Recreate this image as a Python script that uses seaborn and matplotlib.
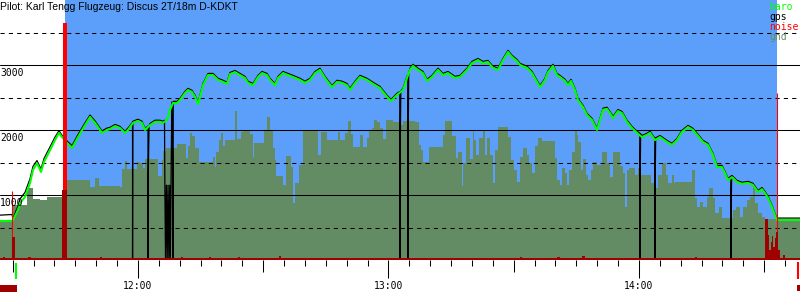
import matplotlib
matplotlib.use("Agg")
import matplotlib.pyplot as plt
import matplotlib.transforms as mtransforms
from matplotlib.patches import Rectangle
import seaborn as sns

# ---------------- data (time = minutes after 11:00, altitude in m) ----------------
title_text = "Pilot: Karl Tengg Flugzeug: Discus 2T/18m D-KDKT"
legend_labels = ["baro", "gps", "noise", "gnd"]
hour_ticks = [60, 120, 180]
hour_labels = ["12:00", "13:00", "14:00"]
half_hour_ticks = [30, 90, 150, 210]
five_min_ticks = [m for m in range(35, 220, 5) if m % 30 != 0]
alt_labels = [1000, 2000, 3000]
solid_levels = [1000, 2000, 3000]
dashed_levels = [500, 1500, 2500, 3500]

x_start, x_end = 26.95, 218.57
flight_start, flight_end = 42.4, 213.05

baro_time = [26.95, 29.82, 30.06, 31.26, 31.74, 32.94, 34.14, 34.85, 35.81, 36.77,
             37.49, 38.93, 40.12, 41.08, 41.80, 43.00, 44.20, 45.63, 47.31, 48.51,
             49.70, 51.38, 52.58, 53.30, 54.49, 55.69, 56.89, 57.61, 58.81, 60.00,
             60.96, 61.68, 62.88, 64.08, 65.27, 65.99, 66.95, 67.67, 68.39, 69.35,
             70.06, 71.26, 71.98, 72.94, 73.66, 74.38, 74.85, 75.57, 76.77, 77.97,
             79.17, 80.36, 81.32, 82.04, 83.24, 84.44, 85.63, 86.35, 87.55, 88.75,
             89.70, 90.90, 91.62, 92.82, 93.54, 94.73, 95.93, 97.13, 98.81, 100.00,
             101.20, 102.40, 103.60, 104.79, 106.47, 107.67, 108.87, 110.06, 110.78, 111.98,
             113.18, 114.85, 116.29, 117.97, 119.64, 120.60, 122.04, 123.48, 124.43, 125.15,
             125.87, 127.07, 128.27, 129.22, 130.42, 131.86, 133.06, 134.25, 135.93, 137.13,
             138.81, 140.00, 141.44, 142.64, 143.84, 145.03, 146.23, 147.43, 148.63, 149.58,
             150.78, 151.50, 153.18, 154.38, 155.57, 156.29, 157.49, 158.21, 159.40, 160.36,
             161.08, 162.28, 163.00, 163.72, 164.67, 165.39, 166.59, 167.55, 168.75, 169.95,
             170.66, 171.38, 172.34, 173.06, 173.78, 174.97, 175.93, 177.13, 178.33, 179.53,
             180.72, 181.92, 182.64, 183.84, 185.03, 186.71, 187.91, 189.10, 190.30, 191.74,
             192.94, 194.13, 195.33, 196.53, 197.73, 198.69, 199.88, 200.60, 201.32, 202.28,
             203.48, 204.67, 206.11, 207.31, 208.51, 209.47, 210.18, 210.90, 211.86, 212.58,
             213.06, 218.57]
baro_alt = [600, 600, 615, 770, 875, 970, 1185, 1385, 1490, 1355,
            1510, 1690, 1845, 1955, 1890, 1800, 1725, 1890, 2075, 2200,
            2110, 1955, 2000, 2015, 2060, 2030, 1955, 2000, 2110, 2140,
            2110, 2000, 2075, 2125, 2125, 2110, 2155, 2310, 2415, 2415,
            2460, 2570, 2615, 2585, 2510, 2400, 2510, 2690, 2845, 2845,
            2770, 2740, 2710, 2860, 2890, 2845, 2800, 2725, 2690, 2815,
            2875, 2845, 2770, 2690, 2800, 2875, 2845, 2815, 2770, 2725,
            2770, 2875, 2925, 2800, 2660, 2740, 2725, 2690, 2615, 2725,
            2815, 2770, 2710, 2645, 2510, 2445, 2540, 2615, 2800, 2925,
            2985, 2925, 2875, 2755, 2815, 2925, 2845, 2875, 2800, 2815,
            2925, 3030, 3075, 3030, 3045, 2955, 2925, 3075, 3200, 3125,
            3060, 3000, 2955, 2875, 2740, 2660, 2770, 2890, 2985, 2845,
            2815, 2755, 2690, 2755, 2615, 2460, 2355, 2230, 2155, 2000,
            2155, 2310, 2325, 2260, 2185, 2290, 2260, 2125, 2030, 1955,
            1890, 1925, 1955, 1845, 1890, 1815, 1770, 1845, 1970, 2045,
            2000, 1910, 1815, 1770, 1615, 1430, 1430, 1340, 1230, 1275,
            1200, 1170, 1185, 1155, 1045, 1090, 1030, 955, 815, 690,
            615, 615]

gps_time = [26.95, 29.82, 30.06, 31.26, 31.74, 32.94, 34.14, 34.85, 35.81, 36.77,
            37.49, 38.93, 40.12, 41.08, 41.80, 43.00, 44.20, 45.63, 47.31, 48.51,
            49.70, 51.38, 52.58, 53.30, 54.49, 55.69, 56.89, 57.61,
            58.70, 58.70, 58.75, 58.81, 60.00, 60.96, 61.68,
            62.40, 62.40, 62.40, 62.65, 62.88, 64.08, 65.27, 65.99,
            66.35, 66.45, 66.60, 66.80, 67.00, 67.20, 67.40, 67.60, 67.75, 68.10,
            68.35, 68.40, 68.45, 69.35, 70.06,
            71.26, 71.98, 72.94, 73.66, 74.38, 74.85, 75.57, 76.77, 77.97,
            79.17, 80.36, 81.32, 82.04, 83.24, 84.44, 85.63, 86.35, 87.55, 88.75,
            89.70, 90.90, 91.62, 92.82, 93.54, 94.73, 95.93, 97.13, 98.81, 100.00,
            101.20, 102.40, 103.60, 104.79, 106.47, 107.67, 108.87, 110.06, 110.78, 111.98,
            113.18, 114.85, 116.29, 117.97, 119.64, 120.60, 122.04,
            122.70, 122.76, 122.76, 122.95, 123.48, 124.43,
            124.62, 124.67, 124.67, 124.85, 125.15,
            125.87, 127.07, 128.27, 129.22, 130.42, 131.86, 133.06, 134.25, 135.93, 137.13,
            138.81, 140.00, 141.44, 142.64, 143.84, 145.03, 146.23, 147.43, 148.63, 149.58,
            150.78, 151.50, 153.18, 154.38, 155.57, 156.29, 157.49, 158.21, 159.40, 160.36,
            161.08, 162.28, 163.00, 163.72, 164.67, 165.39, 166.59, 167.55, 168.75, 169.95,
            170.66, 171.38, 172.34, 173.06, 173.78, 174.97, 175.93, 177.13, 178.33, 179.53,
            180.20, 180.24, 180.24, 180.40, 180.72, 181.92, 182.64,
            183.80, 183.84, 183.84, 184.00, 185.03, 186.71, 187.91, 189.10, 190.30, 191.74,
            192.94, 194.13, 195.33, 196.53, 197.73, 198.69, 199.88, 200.60, 201.32,
            202.00, 202.04, 202.04, 202.20, 202.28,
            203.48, 204.67, 206.11, 207.31, 208.51, 209.47, 210.18, 210.90, 211.86, 212.58,
            213.06, 218.57]
gps_alt = [690, 700, 640, 830, 940, 1040, 1250, 1440, 1530, 1400,
           1560, 1740, 1890, 1990, 1920, 1830, 1760, 1930, 2110, 2230,
           2140, 1985, 2030, 2040, 2085, 2055, 1980, 2030,
           2120, 0, 2125, 2135, 2165, 2135, 2025,
           2060, 0, 1030, 2070, 2100, 2150, 2150, 2135,
           2150, 1045, 0, 1150, 0, 1150, 0, 1150, 0, 2430,
           1200, 0, 2440, 2440, 2485,
           2595, 2640, 2610, 2535, 2425, 2535, 2715, 2870, 2870,
           2795, 2765, 2735, 2885, 2915, 2870, 2825, 2750, 2715, 2840,
           2900, 2870, 2795, 2715, 2825, 2900, 2870, 2840, 2795, 2750,
           2795, 2900, 2950, 2825, 2685, 2765, 2750, 2715, 2640, 2750,
           2840, 2795, 2735, 2670, 2535, 2470, 2565,
           2590, 0, 1310, 2600, 2640, 2825,
           2850, 0, 1415, 2880, 2950,
           3010, 2950, 2900, 2780, 2840, 2950, 2870, 2900, 2825, 2840,
           2950, 3055, 3100, 3055, 3070, 2980, 2950, 3100, 3225, 3150,
           3085, 3025, 2980, 2900, 2765, 2685, 2795, 2915, 3010, 2870,
           2840, 2780, 2715, 2780, 2640, 2485, 2380, 2255, 2180, 2025,
           2180, 2335, 2350, 2285, 2210, 2315, 2285, 2150, 2055, 1980,
           1950, 0, 970, 1940, 1915, 1950, 1980,
           1875, 0, 940, 1880, 1915, 1840, 1795, 1870, 1995, 2070,
           2025, 1935, 1840, 1795, 1640, 1455, 1455, 1365, 1255,
           1290, 0, 615, 1295, 1300,
           1225, 1195, 1210, 1180, 1070, 1115, 1055, 980, 840, 715,
           645, 645]

gnd_time = [26.95, 29.82, 33.42, 34.85, 36.53, 38.21, 41.80, 43.00, 48.51, 49.70,
            50.66, 55.69, 56.17, 56.89, 57.37, 59.76, 60.48, 61.20, 61.68, 64.79,
            65.75, 65.99, 66.71, 69.35, 71.50, 71.98, 72.46, 72.94, 73.66, 74.61,
            77.97, 78.45, 78.69, 79.40, 79.88, 80.36, 80.84, 83.24, 83.71, 84.67,
            85.15, 86.83, 87.55, 87.79, 90.18, 90.90, 91.62, 92.34, 92.82, 93.06,
            94.73, 95.45, 96.65, 97.13, 97.61, 98.57, 99.52, 103.12, 103.84, 105.27,
            106.71, 107.91, 108.39, 109.58, 110.30, 111.02, 111.50, 113.18, 113.90, 114.85,
            115.33, 116.05, 116.53, 117.25, 117.97, 118.69, 119.40, 121.08, 122.76, 123.48,
            126.35, 127.31, 127.79, 128.27, 129.71, 133.06, 133.54, 135.21, 136.17, 136.65,
            137.61, 137.85, 138.57, 139.52, 140.24, 140.48, 140.96, 141.68, 142.64, 143.12,
            143.60, 144.31, 145.03, 145.51, 146.23, 148.63, 149.35, 150.06, 150.78, 151.50,
            152.22, 153.18, 153.66, 154.38, 155.09, 155.81, 156.77, 159.88, 160.36, 161.08,
            161.56, 162.28, 162.76, 163.24, 163.96, 164.67, 165.15, 165.39, 166.11, 166.59,
            167.31, 167.79, 168.51, 168.99, 169.95, 171.14, 172.34, 173.06, 173.78, 175.45,
            176.17, 176.65, 177.13, 177.61, 179.05, 179.76, 180.48, 182.88, 183.60, 184.56,
            185.51, 186.47, 186.95, 187.91, 188.39, 188.63, 192.70, 193.42, 193.90, 194.61,
            195.33, 196.29, 196.77, 197.73, 198.21, 199.17, 199.88, 202.52, 203.24, 204.20,
            204.92, 205.87, 206.59, 207.31, 207.79, 208.51, 209.47, 210.18, 213.06, 218.57]
gnd_alt = [600, 845, 1110, 940, 925, 970, 1075, 1230, 1125, 1260,
           1140, 1125, 1400, 1525, 1400, 1510, 1490, 1415, 1555, 1290,
           1540, 1675, 1725, 1785, 1570, 1755, 1955, 1910, 1725, 1510,
           1585, 1430, 1660, 1845, 1955, 1755, 1845, 2290, 1860, 1970,
           1985, 1940, 1585, 1800, 1985, 2200, 1985, 1725, 1540, 1290,
           1155, 1600, 1430, 875, 1185, 1460, 1985, 1615, 1970, 1845,
           1845, 1970, 1845, 1955, 2140, 1940, 1740, 1925, 1740, 1875,
           1985, 2030, 2155, 2125, 2030, 1860, 2155, 2125, 2075, 2140,
           2125, 1770, 1690, 1510, 1740, 1925, 2140, 1910, 1570, 1660,
           1140, 1490, 1875, 1555, 2000, 1845, 1615, 1875, 2000, 1615,
           1875, 1615, 1185, 1690, 2045, 1890, 1540, 1385, 1200, 1585,
           1725, 1615, 1490, 1340, 1755, 1875, 1830, 1570, 1230, 1155,
           1415, 1340, 1155, 1385, 1660, 1985, 1925, 1815, 1385, 1555,
           1310, 1230, 1385, 1510, 1460, 1660, 1490, 1275, 1660, 1445,
           1340, 815, 1385, 1415, 1310, 1415, 1310, 1185, 1110, 1310,
           1490, 1310, 1185, 1310, 1185, 1200, 1385, 955, 815, 890,
           815, 970, 1110, 955, 725, 815, 645, 770, 815, 660,
           815, 925, 970, 1140, 875, 725, 660, 630, 600, 600]

noise_time = [26.95, 27.67, 28.15, 29.82, 30.54, 32.22, 32.70, 33.66, 34.37, 35.33,
              41.80, 43.00, 50.90, 51.38, 70.30, 70.78, 77.01, 77.49, 83.96, 84.44,
              93.78, 94.26, 112.22, 112.70, 129.70, 130.42, 138.33, 138.81, 151.50, 151.98,
              160.36, 161.08, 166.35, 167.07, 174.73, 175.21, 193.42, 193.90, 206.59, 207.31,
              210.18, 210.90, 211.14, 211.62, 211.86, 212.10, 212.58, 212.82, 213.30, 213.78,
              214.50, 214.98, 218.57]
noise_val = [25, 50, 25, 355, 25, 35, 25, 50, 35, 25,
             1075, 25, 50, 25, 50, 25, 50, 25, 50, 25,
             60, 25, 35, 25, 35, 25, 35, 25, 50, 25,
             50, 25, 60, 25, 35, 25, 50, 25, 35, 25,
             630, 385, 155, 275, 370, 200, 340, 430, 155, 25,
             75, 25, 25]

marker_time = [29.94, 42.4, 213.1]
marker_top = [1060, 3645, 2570]
marker_width = [0.8, 2.9, 0.8]

# ---------------- style ----------------
BLUE = "#5c9ffa"
GND = "#648c64"
NOISE = "#a00000"
BARO = "#00ff00"
GPS = "black"
RED = "#ff0000"
MONO = "DejaVu Sans Mono"

sns.set_theme(style="white")
plt.rcParams["font.family"] = ["DejaVu Sans"]

fig = plt.figure(figsize=(8, 3), dpi=100)
ax = fig.add_axes([0, 40 / 300, 1, 260 / 300])
ax.set_facecolor("white")

ax.axvspan(flight_start, flight_end, color=BLUE, lw=0, zorder=0)
ax.fill_between(gnd_time, gnd_alt, 0, step="post", color=GND, lw=0, zorder=1)

for lv in solid_levels:
    ax.axhline(lv, color="black", lw=0.75, zorder=2)
for lv in dashed_levels:
    ax.axhline(lv, color="black", lw=0.75, ls=(0, (4, 4)), zorder=2)

sns.lineplot(x=gps_time, y=gps_alt, sort=False, estimator=None, color=GPS,
             lw=0.9, ax=ax, zorder=3)
sns.lineplot(x=baro_time, y=baro_alt, sort=False, estimator=None, color=BARO,
             lw=1.5, ax=ax, zorder=4)

ax.vlines(marker_time, 0, marker_top, colors=RED, linewidths=marker_width, zorder=5)
ax.fill_between(noise_time, noise_val, 0, step="post", color=NOISE, lw=0, zorder=6)

ax.set_xlim(x_start, x_end)
ax.set_ylim(0, 4000)
ax.set_xlabel("")
ax.set_ylabel("")
ax.set_yticks([])
for s in ax.spines.values():
    s.set_visible(False)

# altitude labels just below the solid lines
for v in alt_labels:
    ax.annotate(str(v), xy=(0, v), xycoords=("axes fraction", "data"),
                xytext=(0, -2), textcoords="offset points", ha="left", va="top",
                fontsize=7, family=MONO, color="black", zorder=7)

# x ticks
ax.set_xticks(hour_ticks)
ax.set_xticklabels(hour_labels, family=MONO, fontsize=7)
ax.set_xticks(half_hour_ticks, minor=True)
ax.tick_params(axis="x", which="major", direction="out", bottom=True, length=13,
               width=0.75, color="black", pad=2, labelcolor="black")
ax.tick_params(axis="x", which="minor", direction="out", bottom=True, length=8.3,
               width=0.75, color="black")
sec = ax.secondary_xaxis("bottom")
sec.set_xticks(five_min_ticks)
sec.tick_params(axis="x", direction="out", bottom=True, length=4.6, width=0.75,
                color="black", labelbottom=False)
for s in sec.spines.values():
    s.set_visible(False)

# title and legend
ax.text(0.0, 1 - 2 / 260, title_text, transform=ax.transAxes, ha="left", va="top",
        fontsize=7.5, family="Liberation Sans", color="black", zorder=8)
legend_colors = [BARO, GPS, RED, GND]
for i, (lab, col) in enumerate(zip(legend_labels, legend_colors)):
    ax.text(0.9613, 1 - (10.5 + 10 * i) / 260, lab, transform=ax.transAxes,
            ha="left", va="baseline", fontsize=7, family=MONO, color=col, zorder=8)

# range indicators below the axis
trans = mtransforms.blended_transform_factory(ax.transData, ax.transAxes)
ax.vlines([30.78], -3 / 260, -19 / 260, transform=trans, colors=BARO, lw=1.5,
          clip_on=False)
ax.vlines([218.1], -2 / 260, -19 / 260, transform=trans, colors=RED, lw=1.5,
          clip_on=False)
ax.add_patch(Rectangle((x_start, -32 / 260), 4.07, 7 / 260, transform=trans,
                       color=NOISE, lw=0, clip_on=False))
ax.add_patch(Rectangle((217.85, -31 / 260), 0.72, 6 / 260, transform=trans,
                       color=NOISE, lw=0, clip_on=False))

fig.savefig("out.png", dpi=100)
